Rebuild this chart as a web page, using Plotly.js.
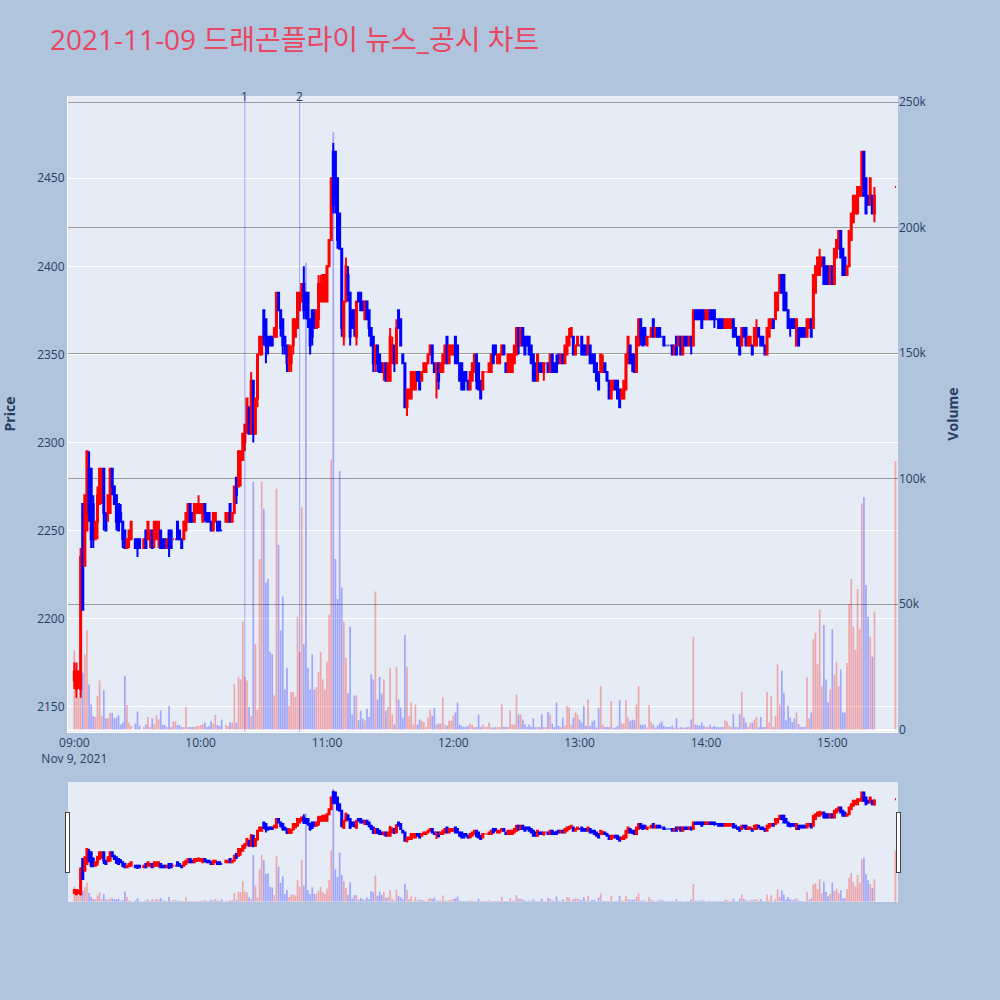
<!DOCTYPE html>
<html>
<head>
<meta charset="utf-8">
<script src="https://cdn.plot.ly/plotly-3.0.1.min.js"></script>
<style>html,body{margin:0;padding:0;background:#B0C4DE;}#chart{width:1000px;height:1000px;}</style>
</head>
<body>
<div id="chart"></div>
<script>
const day = '2021-11-09 ';
const times = [
 '09:00','09:01','09:02','09:03','09:04','09:05','09:06','09:07','09:08','09:09',
 '09:10','09:11','09:12','09:13','09:14','09:15','09:16','09:17','09:18','09:19',
 '09:20','09:21','09:22','09:23','09:24','09:25','09:26','09:27',
 '09:29','09:30','09:31',
 '09:33','09:34','09:35','09:36','09:37','09:38','09:39',
 '09:40','09:41','09:42','09:43','09:44','09:45','09:46','09:47','09:48','09:49',
 '09:50','09:51','09:52','09:53','09:54','09:55','09:56','09:57','09:58','09:59',
 '10:00','10:01','10:02','10:03','10:04','10:05','10:06','10:07','10:08','10:09',
 '10:10',
 '10:12','10:13','10:14','10:15','10:16','10:17','10:18','10:19',
 '10:20','10:21','10:22','10:23','10:24','10:25','10:26','10:27','10:28','10:29',
 '10:30','10:31','10:32','10:33','10:34','10:35','10:36','10:37','10:38','10:39',
 '10:40','10:41','10:42','10:43','10:44','10:45','10:46','10:47','10:48','10:49',
 '10:50','10:51','10:52','10:53','10:54','10:55','10:56','10:57','10:58','10:59',
 '11:00','11:01','11:02','11:03','11:04','11:05','11:06','11:07','11:08','11:09',
 '11:10','11:11','11:12','11:13','11:14','11:15','11:16','11:17','11:18','11:19',
 '11:20','11:21','11:22','11:23','11:24','11:25','11:26','11:27','11:28','11:29',
 '11:30','11:31','11:32','11:33','11:34','11:35','11:36','11:37','11:38','11:39',
 '11:40','11:41','11:42','11:43','11:44','11:45','11:46','11:47','11:48','11:49',
 '11:50','11:51','11:52','11:53','11:54','11:55','11:56','11:57','11:58','11:59',
 '12:00','12:01','12:02','12:03','12:04','12:05','12:06','12:07','12:08','12:09',
 '12:10','12:11','12:12','12:13','12:14','12:15','12:16','12:17','12:18','12:19',
 '12:20','12:21','12:22','12:23','12:24','12:25','12:26','12:27','12:28','12:29',
 '12:30','12:31','12:32','12:33','12:34','12:35','12:36','12:37','12:38','12:39',
 '12:40','12:41','12:42','12:43','12:44','12:45','12:46','12:47','12:48','12:49',
 '12:50','12:51','12:52','12:53','12:54','12:55','12:56','12:57','12:58','12:59',
 '13:00','13:01','13:02','13:03','13:04','13:05','13:06','13:07','13:08','13:09',
 '13:10','13:11','13:12','13:13','13:14','13:15','13:16','13:17','13:18','13:19',
 '13:20','13:21','13:22','13:23','13:24','13:25','13:26','13:27','13:28','13:29',
 '13:30','13:31','13:32','13:33','13:34','13:35','13:36','13:37','13:38','13:39',
 '13:40','13:41','13:42','13:43','13:44','13:45','13:46','13:47','13:48','13:49',
 '13:50','13:51','13:52','13:53','13:54','13:55','13:56','13:57','13:58','13:59',
 '14:00','14:01','14:02','14:03','14:04','14:05','14:06','14:07','14:08','14:09',
 '14:10','14:11','14:12','14:13','14:14','14:15','14:16','14:17','14:18','14:19',
 '14:20','14:21','14:22','14:23','14:24','14:25','14:26','14:27','14:28','14:29',
 '14:30','14:31','14:32','14:33','14:34','14:35','14:36','14:37','14:38','14:39',
 '14:40','14:41','14:42','14:43','14:44','14:45','14:46','14:47','14:48','14:49',
 '14:50','14:51','14:52','14:53','14:54','14:55','14:56','14:57','14:58','14:59',
 '15:00','15:01','15:02','15:03','15:04','15:05','15:06','15:07','15:08','15:09',
 '15:10','15:11','15:12','15:13','15:14','15:15','15:16','15:17','15:18','15:19','15:20',
 '15:30'
];
const opens = [
 2165,2160,2165,2160,2265,2230,2250,2285,2285,2265,
 2245,2255,2265,2270,2285,2260,2260,2260,2285,2275,
 2270,2265,2260,2255,2250,2240,2245,2245,
 2245,2245,2245,
 2240,2250,2245,2245,2250,2245,2245,
 2245,2250,2245,2245,2240,2250,2250,2245,2245,2255,
 2250,2245,2245,2250,2255,2265,2260,2255,2260,2260,
 2260,2255,2265,2260,2260,2255,2250,2255,2255,2255,
 2250,
 2255,2255,2265,2255,2260,2280,2275,2290,
 2290,2300,2310,2320,2305,2335,2305,2325,2350,2350,
 2375,2370,2360,2360,2360,2360,2360,2385,2375,2370,
 2360,2355,2345,2345,2355,2360,2365,2375,2380,2390,
 2385,2385,2370,2375,2375,2365,2370,2380,2380,2380,
 2380,2400,2415,2465,2465,2450,2430,2410,2360,2380,
 2395,2385,2375,2375,2360,2385,2385,2380,2370,2380,
 2375,2365,2360,2345,2355,2350,2345,2340,2345,2335,
 2335,2345,2355,2345,2375,2370,2350,2345,2320,2325,
 2325,2330,2330,2340,2340,2335,2340,2340,2345,2350,
 2355,2345,2340,2345,2340,2340,2345,2360,2345,2350,
 2350,2360,2355,2345,2345,2340,2340,2335,2330,2335,
 2340,2350,2345,2335,2330,2340,2340,2340,2340,2355,
 2355,2345,2345,2350,2355,2345,2340,2340,2340,2345,
 2350,2365,2355,2365,2360,2360,2360,2355,2350,2345,
 2335,2345,2345,2340,2345,2345,2340,2350,2345,2345,
 2350,2345,2350,2345,2350,2355,2360,2360,2350,2355,
 2355,2360,2355,2355,2350,2355,2350,2350,2345,2340,
 2340,2340,2345,2340,2335,2325,2330,2335,2335,2330,
 2325,2325,2330,2345,2355,2350,2350,2340,2355,2370,
 2365,2365,2355,2360,2360,2370,2360,2365,2365,2360,
 2360,2355,2355,2355,2355,2350,2360,2355,2360,2350,
 2360,2360,2355,2360,2355,2375,2375,2375,2375,2375,
 2370,2370,2375,2375,2375,2370,2370,2370,2370,2365,
 2365,2365,2365,2370,2365,2360,2360,2355,2365,2365,
 2355,2355,2355,2355,2355,2365,2360,2360,2355,2350,
 2360,2365,2370,2370,2375,2385,2395,2395,2385,2375,
 2370,2370,2370,2355,2365,2365,2365,2365,2360,2365,
 2370,2365,2385,2395,2395,2400,2405,2400,2400,2390,
 2400,2390,2405,2410,2420,2410,2405,2395,2400,2415,
 2425,2430,2430,2440,2440,2465,2450,2440,2435,2440,2430,
 2445
];
const highs = [
 2175,2175,2170,2240,2265,2270,2295,2295,2285,2270,
 2255,2275,2285,2285,2285,2260,2270,2285,2285,2275,
 2270,2265,2265,2255,2250,2245,2250,2255,
 2245,2245,2245,
 2245,2250,2255,2250,2250,2255,2255,
 2255,2250,2245,2245,2245,2250,2250,2245,2245,2255,
 2250,2245,2255,2260,2265,2265,2260,2265,2265,2270,
 2265,2265,2265,2260,2260,2255,2260,2260,2255,2255,
 2250,
 2260,2260,2265,2260,2275,2280,2295,2295,
 2305,2310,2325,2320,2340,2335,2325,2350,2360,2360,
 2375,2370,2360,2360,2360,2365,2385,2385,2375,2370,
 2360,2355,2355,2355,2370,2370,2385,2385,2390,2400,
 2385,2385,2370,2375,2375,2375,2395,2395,2395,2395,
 2400,2415,2450,2470,2465,2450,2430,2410,2380,2405,
 2400,2385,2375,2375,2380,2385,2385,2380,2380,2380,
 2375,2365,2360,2355,2355,2350,2345,2345,2345,2345,
 2365,2360,2355,2370,2375,2370,2350,2345,2330,2330,
 2340,2340,2340,2340,2340,2340,2345,2345,2350,2355,
 2355,2345,2345,2345,2345,2350,2355,2360,2355,2355,
 2355,2360,2355,2345,2345,2340,2340,2335,2340,2345,
 2350,2350,2345,2335,2340,2340,2340,2345,2350,2355,
 2355,2350,2350,2355,2355,2345,2350,2350,2350,2355,
 2365,2365,2365,2365,2360,2360,2360,2355,2350,2345,
 2350,2345,2345,2345,2345,2345,2350,2350,2345,2350,
 2350,2350,2350,2355,2360,2365,2365,2360,2355,2360,
 2355,2360,2355,2355,2360,2355,2350,2350,2345,2340,
 2350,2350,2345,2340,2335,2335,2335,2335,2335,2330,
 2330,2335,2350,2360,2355,2350,2350,2360,2370,2370,
 2365,2365,2360,2360,2365,2370,2365,2365,2365,2360,
 2360,2355,2355,2355,2355,2355,2360,2360,2360,2360,
 2360,2360,2360,2360,2375,2375,2375,2375,2375,2375,
 2375,2375,2375,2375,2375,2370,2370,2370,2370,2370,
 2370,2370,2370,2370,2365,2360,2360,2365,2365,2365,
 2360,2360,2355,2365,2370,2365,2360,2360,2355,2365,
 2370,2370,2370,2385,2385,2395,2395,2395,2385,2375,
 2370,2370,2370,2370,2365,2365,2365,2365,2370,2370,
 2370,2395,2400,2405,2410,2405,2405,2400,2400,2400,
 2400,2410,2415,2420,2420,2410,2405,2400,2420,2430,
 2440,2440,2445,2445,2465,2465,2450,2440,2450,2440,2445,
 2445
];
const lows = [
 2160,2155,2160,2155,2205,2230,2250,2255,2240,2240,
 2245,2245,2265,2265,2250,2250,2255,2260,2270,2265,
 2250,2250,2255,2240,2240,2240,2240,2245,
 2240,2235,2240,
 2240,2240,2245,2240,2240,2240,2245,
 2240,2240,2240,2240,2240,2235,2240,2245,2245,2245,
 2245,2240,2245,2250,2255,2255,2255,2255,2260,2260,
 2260,2255,2255,2255,2255,2250,2250,2255,2250,2250,
 2250,
 2255,2255,2255,2255,2260,2265,2275,2275,
 2290,2295,2305,2305,2305,2300,2305,2320,2350,2350,
 2355,2345,2350,2355,2355,2360,2360,2375,2360,2350,
 2350,2340,2340,2340,2350,2360,2365,2375,2380,2370,
 2370,2365,2350,2355,2365,2365,2365,2380,2380,2380,
 2380,2400,2415,2430,2430,2410,2410,2360,2355,2380,
 2380,2355,2365,2360,2355,2380,2375,2375,2370,2370,
 2360,2355,2340,2340,2340,2340,2340,2335,2335,2335,
 2335,2345,2340,2345,2365,2355,2345,2320,2315,2325,
 2325,2330,2330,2335,2330,2335,2340,2340,2345,2350,
 2345,2340,2325,2330,2340,2340,2345,2345,2345,2350,
 2350,2345,2345,2335,2330,2330,2335,2330,2330,2335,
 2340,2330,2330,2325,2330,2340,2340,2340,2340,2345,
 2350,2345,2345,2350,2350,2340,2340,2340,2340,2345,
 2350,2350,2355,2355,2350,2355,2350,2345,2335,2335,
 2335,2340,2340,2335,2345,2340,2340,2340,2340,2340,
 2345,2345,2345,2345,2350,2355,2360,2350,2350,2355,
 2355,2350,2350,2350,2350,2345,2345,2340,2335,2330,
 2340,2340,2340,2335,2325,2325,2330,2330,2325,2320,
 2325,2325,2330,2345,2345,2340,2340,2340,2355,2355,
 2355,2355,2355,2360,2360,2360,2360,2360,2360,2360,
 2355,2355,2355,2355,2350,2350,2350,2355,2350,2350,
 2355,2355,2355,2350,2355,2370,2370,2370,2365,2370,
 2370,2370,2370,2370,2365,2370,2365,2365,2365,2365,
 2365,2365,2365,2360,2360,2355,2350,2355,2360,2355,
 2355,2355,2350,2355,2355,2360,2355,2355,2350,2350,
 2360,2365,2365,2370,2375,2385,2385,2375,2375,2365,
 2360,2365,2365,2355,2355,2360,2360,2360,2360,2365,
 2360,2365,2385,2395,2395,2400,2390,2390,2390,2390,
 2390,2390,2405,2410,2405,2395,2395,2395,2400,2415,
 2425,2430,2430,2440,2440,2440,2430,2435,2435,2430,2425,
 2445
];
const closes = [
 2170,2170,2170,2235,2205,2270,2295,2260,2245,2245,
 2255,2270,2285,2285,2260,2250,2270,2285,2275,2265,
 2255,2250,2255,2245,2240,2245,2250,2255,
 2240,2240,2240,
 2245,2240,2255,2250,2240,2255,2255,
 2255,2240,2240,2240,2245,2240,2240,2245,2245,2245,
 2245,2240,2255,2260,2265,2255,2255,2265,2265,2265,
 2265,2265,2260,2255,2255,2250,2260,2260,2250,2250,
 2250,
 2260,2260,2255,2260,2275,2270,2295,2295,
 2305,2310,2325,2305,2335,2305,2325,2350,2360,2360,
 2360,2355,2355,2355,2355,2365,2385,2375,2365,2355,
 2355,2345,2355,2350,2370,2370,2385,2385,2390,2375,
 2375,2370,2355,2360,2365,2375,2390,2390,2395,2395,
 2400,2415,2450,2435,2440,2415,2410,2365,2380,2400,
 2385,2360,2365,2365,2380,2380,2375,2375,2380,2370,
 2365,2355,2345,2355,2345,2340,2340,2345,2335,2345,
 2360,2355,2345,2365,2365,2355,2345,2320,2330,2330,
 2340,2340,2340,2335,2330,2340,2345,2345,2350,2355,
 2345,2340,2345,2335,2345,2350,2355,2345,2355,2355,
 2355,2345,2345,2335,2330,2330,2335,2330,2340,2345,
 2350,2335,2330,2325,2340,2340,2340,2345,2350,2345,
 2350,2350,2350,2355,2350,2340,2350,2350,2350,2355,
 2365,2355,2365,2355,2350,2355,2350,2345,2335,2335,
 2350,2340,2340,2345,2345,2340,2350,2340,2340,2340,
 2345,2350,2345,2355,2360,2360,2365,2350,2355,2360,
 2355,2350,2350,2350,2360,2345,2345,2340,2335,2330,
 2350,2345,2340,2335,2325,2335,2335,2330,2325,2320,
 2330,2335,2350,2360,2345,2345,2340,2360,2370,2360,
 2355,2360,2360,2360,2365,2360,2365,2360,2360,2360,
 2355,2355,2355,2355,2350,2355,2350,2360,2350,2360,
 2355,2355,2360,2355,2375,2370,2370,2370,2365,2370,
 2375,2375,2370,2370,2370,2370,2365,2365,2365,2370,
 2370,2370,2370,2360,2360,2355,2350,2365,2360,2355,
 2360,2360,2350,2365,2365,2360,2355,2355,2350,2365,
 2370,2370,2365,2385,2385,2395,2385,2375,2375,2365,
 2365,2365,2365,2370,2355,2360,2360,2360,2370,2370,
 2360,2395,2400,2405,2405,2405,2390,2390,2390,2400,
 2390,2410,2415,2420,2405,2395,2395,2400,2420,2430,
 2440,2440,2445,2445,2465,2440,2430,2435,2450,2430,2440,
 2445
];
const volumes = [
 31600,26000,12700,27000,22700,30000,39600,18000,10000,5400,
 5000,13400,19600,5400,15700,4500,4500,6700,6700,4500,
 4800,5700,2000,2800,21400,9800,2800,1500,
 2400,7200,1400,
 1000,2000,5000,1000,4500,2300,5800,
 4000,7700,2000,1800,1000,9400,1000,3200,3200,1800,
 1800,1000,1000,9000,1000,1000,1000,1000,1400,1400,
 1800,2100,2800,1000,1400,3400,2400,5800,1800,1400,
 4000,
 1800,1400,2800,2800,18000,2800,21000,20000,
 43000,21000,19600,9000,5500,98700,34000,8000,68000,98700,
 88000,58600,60000,31000,30000,13700,96000,73600,39600,53000,
 16000,24600,9500,15000,15000,13000,45000,31000,88500,34000,
 186000,24600,16000,30000,16000,17000,23000,31000,20000,16000,
 27000,45700,107600,238000,68000,52000,103000,56600,43000,28500,
 14500,41000,6000,13600,13600,3700,7500,4400,3600,8300,
 5000,22000,20000,55000,12000,21000,14400,20000,7500,9000,
 24600,6000,2000,25000,12000,8800,4800,37800,25000,5500,
 11000,2000,10000,2000,4000,3500,3000,1000,4800,8000,
 5500,8500,2000,2400,2400,12800,2000,1500,3500,3500,
 5500,6800,10800,2000,1500,1000,1000,1500,2400,2000,
 1000,1000,6000,1000,2000,1000,1000,2800,1000,800,
 1000,1000,1000,10000,1000,1000,1000,7700,2000,2000,
 14000,6000,6000,4000,2000,1000,2000,1000,4500,1000,
 1000,1000,6000,1000,1000,7000,6000,2400,1000,10800,
 1500,1000,4800,1500,9400,8800,2000,4800,6800,6000,
 4000,2800,9400,1500,12000,1500,3200,3700,800,8500,
 17400,2000,1000,1000,1000,11400,800,800,1500,11700,
 2400,2400,11700,4800,3500,4000,3700,10000,17400,2000,
 1800,2000,800,9800,3200,2000,800,1500,2400,3200,
 1500,1000,1000,1000,1500,800,4500,800,1000,800,
 800,1000,1000,4000,37000,2000,1800,1500,2800,1500,
 1000,1000,2000,1000,1500,1000,1000,1000,1000,3700,
 3200,1500,1000,6100,1000,1000,6100,15000,4800,2800,
 1000,2800,2800,4000,5000,1000,5000,1000,1000,15000,
 2800,13400,1000,5500,26000,10000,23500,14700,3700,9400,
 4800,3000,4500,6800,2300,1000,1000,1000,20900,4500,
 6800,36000,38600,26000,47700,17400,41700,20000,11000,16000,
 40000,22000,27000,17400,24000,6800,6800,26500,50000,60000,
 41000,31800,56000,40000,90000,92700,57600,45000,37000,29000,47000,
 107000
];
const eventTimes = ['10:21', '10:47'];
const eventLabels = ['1', '2'];
const titleText = '2021-11-09 드래곤플라이 뉴스_공시 차트';

const x = times.map(t => day + t);

// volume colour follows candle direction (same rule as plotly candlestick)
const volColors = [];
let inc = true, prevC = null;
for (let i = 0; i < closes.length; i++) {
  if (closes[i] === opens[i]) {
    if (prevC !== null && closes[i] !== prevC) inc = closes[i] > prevC;
  } else inc = closes[i] > opens[i];
  prevC = closes[i];
  volColors.push(inc ? 'rgba(255,0,0,0.3)' : 'rgba(0,0,255,0.3)');
}

const xRange = [day + '08:57:00', day + '15:31:12'];

const data = [
  {
    type: 'candlestick', x: x, open: opens, high: highs, low: lows, close: closes,
    xaxis: 'x', yaxis: 'y', name: 'Price',
    increasing: {line: {color: 'red', width: 2}, fillcolor: 'red'},
    decreasing: {line: {color: 'blue', width: 2}, fillcolor: 'blue'},
    showlegend: false
  },
  {
    type: 'bar', x: x, y: volumes, xaxis: 'x', yaxis: 'y2', name: 'Volume',
    marker: {color: volColors, line: {width: 0}},
    showlegend: false
  }
];

const shapes = eventTimes.map(t => ({
  type: 'line', xref: 'x', yref: 'paper', x0: day + t, x1: day + t, y0: 0, y1: 1,
  line: {color: 'rgba(0,0,255,0.3)', width: 1}
}));
const annotations = eventTimes.map((t, i) => ({
  xref: 'x', yref: 'paper', x: day + t, y: 1, yanchor: 'middle', text: eventLabels[i],
  showarrow: false, font: {size: 12, color: '#2a3f5f'}
}));

const layout = {
  width: 1000, height: 1000,
  paper_bgcolor: '#B0C4DE', plot_bgcolor: '#E5ECF6',
  font: {family: '"Open Sans", "Noto Sans CJK KR", sans-serif', size: 12, color: '#2a3f5f'},
  title: {text: titleText, x: 0.05, xanchor: 'left', y: 0.96, yanchor: 'middle',
          font: {size: 28, color: '#E8475F'}},
  margin: {l: 68, r: 102, t: 96, b: 98},
  showlegend: false,
  bargap: 0.2,
  xaxis: {
    type: 'date', range: xRange, showgrid: false, zeroline: false,
    linecolor: 'white', ticks: '',
    rangeslider: {visible: true, thickness: 0.149, range: xRange}
  },
  yaxis: {
    title: {text: 'Price', font: {size: 14, weight: 'bold'}, standoff: 28},
    range: [2135.6, 2496.7], gridcolor: 'white', zeroline: false, linecolor: 'white', ticks: ''
  },
  yaxis2: {
    title: {text: 'Volume', font: {size: 14, weight: 'bold'}, standoff: 22},
    overlaying: 'y', side: 'right', range: [-960, 252400],
    showgrid: true, gridcolor: '#9a9a9a', zeroline: true, zerolinecolor: 'white', zerolinewidth: 2,
    ticks: ''
  },
  shapes: shapes,
  annotations: annotations
};

Plotly.newPlot('chart', data, layout, {displayModeBar: false, staticPlot: true});
</script>
</body>
</html>
